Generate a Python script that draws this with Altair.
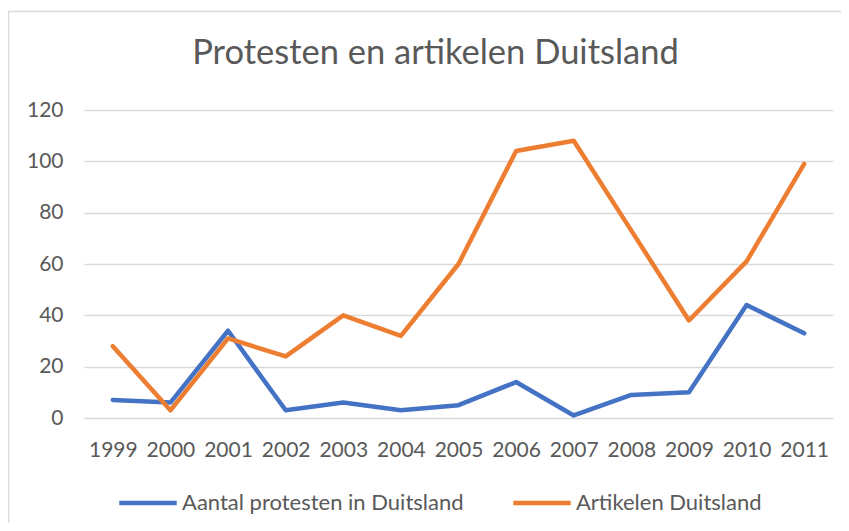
import altair as alt
import pandas as pd

years = ["1999", "2000", "2001", "2002", "2003", "2004", "2005",
         "2006", "2007", "2008", "2009", "2010", "2011"]
protesten = [7, 6, 34, 3, 6, 3, 5, 14, 1, 9, 10, 44, 33]
artikelen = [28, 3, 31, 24, 40, 32, 60, 104, 108, 73, 38, 61, 99]
series_names = ["Aantal protesten in Duitsland", "Artikelen Duitsland"]
colors = ["#4472C4", "#ED7D31"]
y_ticks = [0, 20, 40, 60, 80, 100, 120]

rows = []
for name, vals in zip(series_names, [protesten, artikelen]):
    for yr, v in zip(years, vals):
        rows.append({"Jaar": yr, "Waarde": v, "Reeks": name})
df = pd.DataFrame(rows)

FONT = "Lato"
GREY = "#595959"

frame = alt.Chart(pd.DataFrame({"a": [0]})).mark_rect(
    fill="transparent", stroke="#d9d9d9", strokeWidth=1.5
).encode(
    x=alt.value(-75.5), x2=alt.value(800),
    y=alt.value(-98.5), y2=alt.value(450)
)

lines = alt.Chart(df).mark_line(
    strokeWidth=4.5, strokeCap="round", strokeJoin="round"
).encode(
    x=alt.X("Jaar:O", sort=years, title=None,
            axis=alt.Axis(labelAngle=0, labelFontSize=21, labelColor=GREY,
                          labelFont=FONT, ticks=False, domain=False,
                          labelPadding=21, grid=False)),
    y=alt.Y("Waarde:Q", title=None,
            scale=alt.Scale(domain=[0, 120], nice=False),
            axis=alt.Axis(values=y_ticks, labelFontSize=21, labelColor=GREY,
                          labelFont=FONT, ticks=False, domain=False,
                          labelPadding=21, gridColor="#d9d9d9",
                          gridWidth=1.5)),
    color=alt.Color("Reeks:N", sort=series_names,
                    scale=alt.Scale(domain=series_names, range=colors),
                    legend=alt.Legend(
                        title=None, orient="none", direction="horizontal",
                        legendX=33, legendY=362,
                        symbolType="stroke", symbolStrokeWidth=4.5,
                        symbolSize=3300, labelFontSize=22,
                        labelColor=GREY, labelFont=FONT, labelOffset=3,
                        columnPadding=40, labelLimit=400)),
    order=alt.Order("Jaar:O")
)

chart = alt.layer(frame, lines).properties(
    width=749, height=308,
    title=alt.Title("Protesten en artikelen Duitsland", fontSize=34.5,
                    font=FONT, fontWeight="normal", color=GREY,
                    anchor="middle", baseline="alphabetic", offset=-88,
                    dx=-23),
    autosize=alt.AutoSizeParams(type="none"),
    padding={"left": 76, "top": 102, "right": 8, "bottom": 105}
).configure_view(stroke=None)

chart.save("out.html", embed_options={"renderer": "svg", "actions": False})
